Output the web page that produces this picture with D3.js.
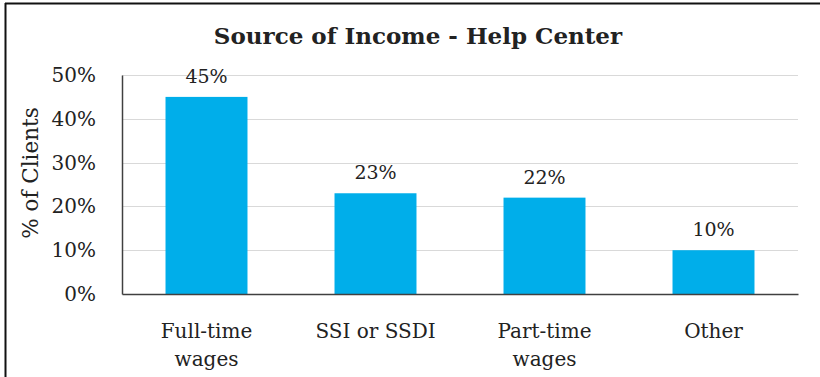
<!DOCTYPE html>
<html>
<head>
<meta charset="utf-8">
<script src="https://cdn.jsdelivr.net/npm/d3@7/dist/d3.min.js"></script>
<style>
  html, body { margin: 0; padding: 0; background: #ffffff; }
  svg { display: block; }
  text { font-family: "DejaVu Serif", "Liberation Serif", serif; fill: #222; }
</style>
</head>
<body>
<svg id="chart" width="820" height="377"></svg>
<script>
// Source of income categories and share of clients (percent)
const categories = [["Full-time", "wages"], ["SSI or SSDI"], ["Part-time", "wages"], ["Other"]];
const values = [45, 23, 22, 10];
const yTicks = [0, 10, 20, 30, 40, 50];
const titleText = "Source of Income - Help Center";
const yAxisTitle = "% of Clients";

const svg = d3.select("#chart");
const W = 820, H = 377;
const margin = { left: 122, right: 22, top: 75, bottom: 83 };

svg.append("rect").attr("width", W).attr("height", H).attr("fill", "#fff");

// frame lines on the top and left edges
svg.append("line").attr("x1", 5).attr("x2", W).attr("y1", 3.5).attr("y2", 3.5)
  .attr("stroke", "#111").attr("stroke-width", 2);
svg.append("line").attr("x1", 5.5).attr("x2", 5.5).attr("y1", 3).attr("y2", H)
  .attr("stroke", "#111").attr("stroke-width", 2);

const keys = categories.map(c => c.join(" "));
const x = d3.scaleBand().domain(keys).range([margin.left, W - margin.right]).paddingInner(0.515).paddingOuter(0.2575);
const y = d3.scaleLinear().domain([0, 50]).range([H - margin.bottom, margin.top]);

// gridlines
svg.append("g")
  .selectAll("line").data(yTicks.filter(t => t > 0)).join("line")
  .attr("x1", margin.left).attr("x2", W - margin.right)
  .attr("y1", d => Math.round(y(d)) + 0.5).attr("y2", d => Math.round(y(d)) + 0.5)
  .attr("stroke", "#d9d9d9").attr("stroke-width", 1);

// bars
svg.append("g").selectAll("rect").data(values).join("rect")
  .attr("x", (d, i) => x(keys[i]))
  .attr("width", x.bandwidth())
  .attr("y", d => y(d))
  .attr("height", d => y(0) - y(d))
  .attr("fill", "#00aeea");

// value labels
svg.append("g").selectAll("text").data(values).join("text")
  .attr("x", (d, i) => x(keys[i]) + x.bandwidth() / 2)
  .attr("y", d => y(d) - 14)
  .attr("text-anchor", "middle")
  .attr("font-size", 19)
  .text(d => d + "%");

// y axis
const yAxis = d3.axisLeft(y).tickValues(yTicks).tickSize(0).tickPadding(26).tickFormat(d => d + "%");
const yg = svg.append("g").attr("transform", `translate(${margin.left},0)`).call(yAxis);
yg.select(".domain").attr("stroke", "#404040").attr("stroke-width", 1.5);
yg.selectAll("text").attr("font-size", 20).attr("font-family", "DejaVu Serif").attr("fill", "#222");

// x axis
const xAxis = d3.axisBottom(x).tickSize(0).tickFormat(() => "");
const xg = svg.append("g").attr("transform", `translate(0,${y(0)})`).call(xAxis);
xg.select(".domain").attr("stroke", "#404040").attr("stroke-width", 1.5);
xg.selectAll(".tick").each(function(d, i) {
  const t = d3.select(this).append("text")
    .attr("text-anchor", "middle")
    .attr("font-size", 20)
    .attr("font-family", "DejaVu Serif")
    .attr("fill", "#222");
  categories[i].forEach((line, j) => {
    t.append("tspan").attr("x", 0).attr("y", 44 + j * 28).text(line);
  });
});

// axis title
svg.append("text")
  .attr("transform", "translate(38,173) rotate(-90)")
  .attr("text-anchor", "middle")
  .attr("font-size", 21.5)
  .text(yAxisTitle);

// chart title
svg.append("text")
  .attr("x", 418).attr("y", 44)
  .attr("text-anchor", "middle")
  .attr("font-size", 23)
  .attr("font-weight", "bold")
  .attr("fill", "#111")
  .text(titleText);
</script>
</body>
</html>
